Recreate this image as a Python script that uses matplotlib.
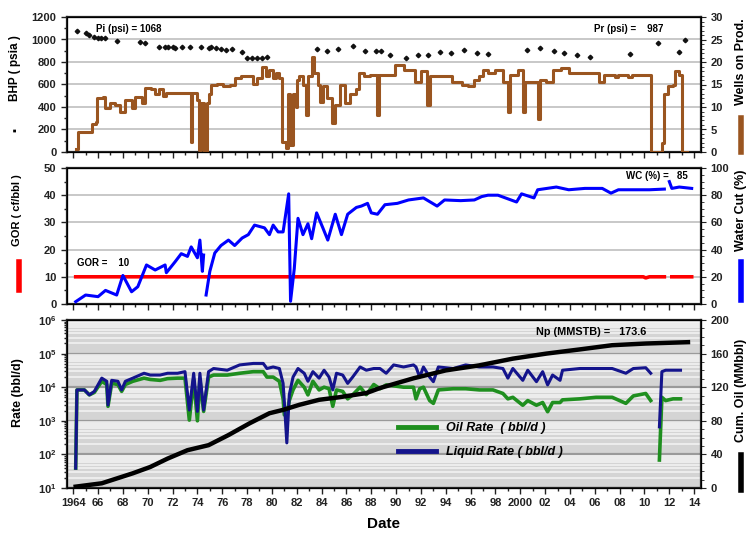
import numpy as np
import matplotlib
matplotlib.use("Agg")
import matplotlib.pyplot as plt
from matplotlib.ticker import MultipleLocator, FixedLocator, LogLocator, NullFormatter

plt.rcParams['font.family'] = ['Liberation Sans', 'DejaVu Sans']
plt.rcParams['font.weight'] = 'bold'

nan = np.nan

# --- Well performance data (decimal years) ---
# Static BHP survey points (psia)
bhp_year = [1964.3, 1965.0, 1965.3, 1965.7, 1966.0, 1966.2, 1966.6, 1967.5, 1969.4, 1969.8,
            1970.9, 1971.4, 1971.6, 1972.0, 1972.2, 1972.8, 1973.4, 1974.3, 1974.9, 1975.1,
            1975.5, 1975.9, 1976.3, 1976.8, 1977.6, 1978.0, 1978.4, 1978.8, 1979.2, 1979.6,
            1983.6, 1984.4, 1985.3, 1986.5, 1987.5, 1988.4, 1988.8, 1989.5, 1990.8, 1991.8,
            1992.6, 1993.5, 1994.4, 1995.5, 1996.5, 1997.4, 2000.5, 2001.6, 2002.7, 2003.5,
            2004.6, 2005.6, 2008.8, 2011.1, 2012.8, 2013.3]
bhp = [1075, 1055, 1040, 1025, 1010, 1010, 1010, 990, 975, 965,
       930, 930, 935, 930, 925, 930, 930, 930, 925, 935,
       925, 918, 910, 918, 890, 838, 838, 838, 838, 845,
       912, 900, 915, 942, 898, 898, 898, 862, 838, 862,
       862, 890, 880, 910, 880, 870, 906, 921, 898, 880,
       862, 848, 870, 966, 890, 995]

# Number of producing wells
wells_year = [1964.2, 1964.4, 1965.5, 1965.8, 1965.9, 1966.4, 1966.6, 1967.0, 1967.4, 1967.8,
              1968.2, 1968.7, 1969.0, 1969.5, 1969.8, 1970.3, 1970.6, 1970.9, 1971.2, 1971.5,
              1973.45, 1973.55, 1973.95, 1974.1, 1974.3, 1974.5, 1974.8, 1974.9, 1975.1, 1975.6,
              1976.1, 1976.6, 1977.0, 1977.5, 1978.5, 1978.8, 1979.2, 1979.5, 1979.8, 1980.1,
              1980.3, 1980.6, 1980.85, 1981.1, 1981.3, 1981.45, 1981.7, 1981.9, 1982.0, 1982.2,
              1982.5, 1982.75, 1982.9, 1983.2, 1983.4, 1983.7, 1983.9, 1984.1, 1984.4, 1984.8,
              1985.1, 1985.5, 1985.9, 1986.3, 1986.8, 1987.0, 1987.4, 1987.9, 1988.45, 1988.6,
              1989.9, 1990.6, 1991.5, 1992.0, 1992.5, 1992.7, 1993.1, 1994.5, 1995.3, 1995.8,
              1996.3, 1996.7, 1997.0, 1997.4, 1998.0, 1998.6, 1999.0, 1999.2, 1999.8, 2000.2,
              2000.4, 2001.45, 2001.6, 2002.1, 2002.6, 2003.3, 2003.9, 2005.0, 2006.3, 2006.7,
              2007.6, 2007.9, 2008.7, 2009.0, 2010.5, 2011.4, 2011.6, 2011.9, 2012.3, 2012.45,
              2012.8, 2013.0, 2013.4]
wells = [0.7, 4.5, 6.2, 6.7, 12.0, 12.3, 9.8, 10.9, 10.5, 9.0,
         11.5, 9.8, 12.3, 10.8, 14.2, 13.9, 12.8, 13.9, 12.4, 13.1,
         2.3, 13.1, 11.5, 0.5, 11.0, 0.0, 11.0, 13.0, 14.9, 15.2,
         14.6, 14.9, 16.4, 17.0, 15.2, 16.4, 19.0, 17.0, 18.2, 16.4,
         17.5, 16.4, 2.3, 0.8, 13.0, 1.6, 13.0, 10.0, 15.9, 16.8,
         15.0, 8.2, 16.8, 21.2, 17.5, 15.0, 11.2, 14.6, 12.0, 6.4,
         10.5, 15.0, 10.9, 12.8, 14.0, 17.5, 16.8, 17.2, 8.2, 17.2,
         19.3, 18.2, 15.6, 17.9, 10.5, 16.8, 16.8, 15.6, 15.0, 14.6,
         16.0, 16.8, 18.2, 17.5, 18.2, 15.6, 9.0, 17.2, 18.2, 9.0,
         15.6, 7.4, 16.1, 15.6, 18.2, 18.6, 17.5, 17.5, 15.6, 17.2,
         16.6, 17.2, 16.7, 17.2, 0.0, 2.0, 13.0, 14.6, 15.0, 17.9,
         17.2, 0.0, 0.0]

# Gas-oil ratio (cf/bbl)
gor_year = [1964.2, 1980.0, 1995.0, 2009.9, 2010.1, 2010.4, 2011.6, nan, 2012.2, 2013.8]
gor = [10, 10, 10, 10, 9.6, 10, 10, nan, 10, 10]

# Water cut (%)
wc_year = [1964.2, 1965.0, 1966.0, 1966.6, 1967.5, 1968.0, 1968.7, 1969.2, 1969.9, 1970.6,
           1971.4, 1971.5, 1972.2, 1972.7, 1973.2, 1973.5, 1974.0, 1974.2, 1974.4, 1974.5,
           nan, 1974.7, 1975.0, 1975.4, 1975.9, 1976.5, 1977.0, 1977.6, 1978.1, 1978.6,
           1979.4, 1979.8, 1980.1, 1980.5, 1980.9, 1981.35, 1981.5, 1981.8, 1982.1, 1982.5,
           1982.9, 1983.2, 1983.6, 1984.1, 1984.5, 1985.1, 1985.6, 1986.1, 1986.8, 1987.2,
           1987.7, 1988.0, 1988.5, 1989.1, 1990.1, 1991.0, 1992.2, 1993.3, 1993.9, 1995.2,
           1996.3, 1996.9, 1997.4, 1998.2, 1999.7, 2000.1, 2001.1, 2001.4, 2002.9, 2003.9,
           2005.2, 2006.6, 2007.3, 2007.9, 2009.1, 2010.4, 2011.6, nan, 2012.0, 2012.2,
           2012.8, 2013.8]
wc = [1.7, 6.6, 5.4, 10.0, 6.6, 21.0, 9.0, 12.7, 28.7, 25.0,
      28.7, 23.0, 31.0, 37.0, 35.0, 42.0, 34.0, 47.0, 24.0, 36.0,
      nan, 6.6, 24.0, 37.5, 43.0, 47.0, 43.0, 48.5, 51.0, 58.0,
      56.0, 51.0, 58.0, 53.0, 53.0, 81.0, 2.0, 26.0, 63.0, 51.0,
      59.0, 48.0, 67.0, 56.0, 47.0, 66.0, 51.0, 66.0, 71.0, 72.0,
      74.0, 67.0, 66.0, 73.0, 74.0, 76.5, 78.0, 72.0, 76.5, 76.0,
      76.5, 79.0, 80.0, 80.0, 75.0, 81.0, 78.0, 84.0, 86.0, 84.0,
      85.0, 85.0, 81.5, 84.0, 84.0, 84.0, 84.5, nan, 90.0, 85.0,
      86.0, 85.0]

# Oil and liquid rates (bbl/d)
rate_year = [1964.2, 1964.3, 1964.9, 1965.3, 1965.7, 1966.3, 1966.7, 1966.8, 1967.1, 1967.6,
             1967.9, 1968.2, 1968.8, 1969.7, 1970.2, 1971.0, 1971.6, 1972.4, 1973.0, 1973.35,
             1973.7, 1974.0, 1974.2, 1974.5, 1974.9, 1975.3, 1976.4, 1977.4, 1978.5, 1979.3,
             1979.6, 1980.1, 1980.6, 1980.9, 1981.0, 1981.2, 1981.4, 1981.7, 1982.1, 1982.6,
             1982.9, 1983.3, 1983.8, 1984.2, 1984.6, 1984.9, 1985.2, 1985.7, 1986.1, 1986.5,
             1987.1, 1987.6, 1988.2, 1988.7, 1989.2, 1989.8, 1990.6, 1991.4, 1991.6, 1991.9,
             1992.2, 1992.7, 1993.0, 1993.4, 1994.6, 1995.6, 1996.7, 1997.8, 1998.6, 1999.0,
             1999.4, 2000.2, 2000.6, 2001.3, 2001.8, 2002.2, 2002.6, 2003.2, 2003.4, 2004.8,
             2006.1, 2007.4, 2008.5, 2009.1, 2010.1, 2010.5, nan, 2011.2, 2011.4, 2011.7,
             2012.3, 2012.9]
liquid_rate = [39, 8300, 8300, 5900, 7500, 18600, 15000, 2960, 16000, 15000,
               8300, 15000, 18600, 26000, 23000, 23000, 26000, 26000, 29000, 2100,
               26000, 1900, 26000, 2100, 29000, 36000, 32000, 46000, 51000, 51000,
               36000, 40000, 36000, 13000, 3700, 220, 6000, 20000, 36000, 26000,
               15000, 29000, 18600, 32000, 20000, 8300, 26000, 23000, 13000, 20000,
               40000, 32000, 36000, 36000, 26000, 46000, 40000, 46000, 40000, 20000,
               40000, 20000, 14600, 40000, 36000, 46000, 40000, 40000, 36000, 18600,
               36000, 16000, 32000, 14600, 29000, 11700, 23000, 16000, 32000, 36000,
               36000, 36000, 26000, 36000, 38000, 26000, nan, 660, 29000, 32000,
               32000, 32000]
oil_rate = [39, 8300, 8300, 5900, 7000, 15000, 12000, 2700, 13000, 12000,
            7500, 12000, 15000, 18600, 17000, 16000, 18000, 18600, 18600, 1050,
            17000, 1000, 17000, 1900, 20000, 23000, 23000, 26000, 29000, 29000,
            20000, 20000, 15000, 4500, 1500, 1500, 4000, 8300, 16000, 10000,
            5900, 15000, 8300, 10000, 9000, 2700, 8300, 7500, 4500, 5900,
            10000, 6000, 12000, 9000, 11700, 11000, 10000, 10000, 4500, 9000,
            10000, 4000, 3300, 8300, 9000, 9000, 8300, 8300, 6500, 4500,
            5000, 2900, 4000, 2900, 3500, 1860, 3500, 3500, 4200, 4500,
            5000, 5000, 3300, 5500, 6500, 4000, nan, 68, 5000, 4000,
            4500, 4500]

# Cumulative oil (MMSTB)
cum_year = [1964.2, 1966.3, 1968.8, 1970.2, 1971.6, 1973.2, 1974.9, 1976.5, 1978.2, 1979.8,
            1980.9, 1982.2, 1983.8, 1985.4, 1987.6, 1988.7, 1991.4, 1994.0, 1996.7, 1999.4,
            2002.1, 2004.8, 2007.4, 2010.1, 2013.5]
cum_oil = [1.6, 5.6, 17.5, 25, 35, 45, 51, 63, 77, 89,
           93, 99, 105, 108, 113, 119, 130.6, 140, 146, 154,
           160, 165, 170, 172, 173.6]

pi_psi = 1068
pr_psi = 987
gor_now = 10
wc_now = 85
np_now = 173.6

year_ticks = list(range(1964, 2015, 2))
year_labels = ['1964' if y == 1964 else ('2000' if y == 2000 else '%02d' % (y % 100)) for y in year_ticks]

c_brown = '#9a5520'
c_blue = '#0000ff'
c_red = '#ff0000'
c_green = '#1f8f1f'
c_navy = '#14148c'
c_grid = '#c8c8c8'
TICK_SIZE = 8

fig = plt.figure(figsize=(7.52, 5.36), dpi=100)
L, R = 67 / 752, 701 / 752
ax1 = fig.add_axes([L, 1 - 152 / 536, R - L, 135 / 536])
ax2 = fig.add_axes([L, 1 - 304 / 536, R - L, 136 / 536])
ax3 = fig.add_axes([L, 1 - 488 / 536, R - L, 168 / 536])


def style_axes(ax, show_xlabels):
    ax.set_xlim(1963.5, 2014.55)
    ax.xaxis.set_major_locator(FixedLocator(year_ticks))
    ax.xaxis.set_minor_locator(MultipleLocator(1))
    if show_xlabels:
        ax.set_xticklabels(year_labels)
    else:
        ax.set_xticklabels([])
    for s in ax.spines.values():
        s.set_linewidth(1.6)
        s.set_color('#222222')
    ax.tick_params(which='both', direction='out', labelsize=TICK_SIZE, width=1, colors='#222222')
    ax.tick_params(which='major', length=4)
    ax.tick_params(which='minor', length=2.5)


def style_right(axr):
    axr.tick_params(which='both', direction='out', labelsize=TICK_SIZE, colors='#222222')
    axr.tick_params(which='minor', length=2.5)


# --- Top: BHP and wells on production ---
style_axes(ax1, False)
ax1.set_ylim(0, 1200)
ax1.yaxis.set_major_locator(MultipleLocator(200))
ax1.yaxis.set_minor_locator(MultipleLocator(100))
ax1.grid(axis='y', which='major', color=c_grid, linewidth=1.4)
ax1.set_axisbelow(True)
ax1.plot(bhp_year, bhp, linestyle='none', marker='D', markersize=2.3, color='#111111')
ax1b = ax1.twinx()
ax1b.plot(wells_year, wells, drawstyle='steps-post', color=c_brown, linewidth=2.2)
ax1b.set_ylim(0, 30)
ax1b.yaxis.set_major_locator(MultipleLocator(5))
ax1b.yaxis.set_minor_locator(MultipleLocator(1))
style_right(ax1b)
ax1.text(1965.8, 1092, 'Pi (psi) = %d' % pi_psi, fontsize=7, ha='left', va='center')
ax1.text(2005.9, 1095, 'Pr (psi) =    %d' % pr_psi, fontsize=7, ha='left', va='center')

# --- Middle: GOR and water cut ---
style_axes(ax2, False)
ax2.set_ylim(0, 50)
ax2.yaxis.set_major_locator(MultipleLocator(10))
ax2.yaxis.set_minor_locator(MultipleLocator(5))
ax2.grid(axis='y', which='major', color=c_grid, linewidth=1.4)
ax2.set_axisbelow(True)
ax2.plot(gor_year, gor, color=c_red, linewidth=2.6)
ax2b = ax2.twinx()
ax2b.plot(wc_year, wc, color=c_blue, linewidth=2.2)
ax2b.set_ylim(0, 100)
ax2b.yaxis.set_major_locator(MultipleLocator(20))
ax2b.yaxis.set_minor_locator(MultipleLocator(5))
style_right(ax2b)
ax2.text(1964.3, 15.0, 'GOR =    %d' % gor_now, fontsize=7, ha='left', va='center')
ax2.text(2008.5, 47, 'WC (%%) =   %d' % wc_now, fontsize=7, ha='left', va='center')

# --- Bottom: rates and cumulative oil ---
style_axes(ax3, True)
ax3.set_facecolor('#d4d4d4')
ax3.set_yscale('log')
ax3.set_ylim(10, 1e6)
ax3.yaxis.set_major_locator(LogLocator(base=10, numticks=10))
ax3.yaxis.set_minor_locator(LogLocator(base=10, subs=np.arange(2, 10), numticks=10))
ax3.yaxis.set_minor_formatter(NullFormatter())
ax3.grid(axis='y', which='minor', color='#f4f4f4', linewidth=1.1)
ax3.grid(axis='y', which='major', color='#9a9a9a', linewidth=1.6)
ax3.set_axisbelow(True)
ax3.plot(rate_year, oil_rate, color=c_green, linewidth=2.6, label='Oil Rate  ( bbl/d )')
ax3.plot(rate_year, liquid_rate, color=c_navy, linewidth=2.2, label='Liquid Rate ( bbl/d )')
ax3b = ax3.twinx()
ax3b.plot(cum_year, cum_oil, color='black', linewidth=3.2)
ax3b.set_ylim(0, 200)
ax3b.yaxis.set_major_locator(MultipleLocator(40))
ax3b.yaxis.set_minor_locator(MultipleLocator(10))
style_right(ax3b)
ax3b.text(2001.3, 186, 'Np (MMSTB) =   %.1f' % np_now, fontsize=7.8, ha='left', va='center')
ax3.set_xlabel('Date', fontsize=11, fontweight='bold', labelpad=6)
leg = ax3.legend(loc='upper left', bbox_to_anchor=(0.505, 0.46), frameon=False,
                 prop={'size': 9, 'style': 'italic', 'weight': 'bold'},
                 handlelength=3.0, labelspacing=1.0)
for h in leg.get_lines():
    h.set_linewidth(3.5)

# --- Axis titles at the figure edges ---
fig.text(15 / 752, 1 - 68 / 536, 'BHP ( psia )', rotation=90, ha='center', va='center', fontsize=8.5)
fig.text(15 / 752, 1 - 130 / 536, '\u25aa', rotation=90, ha='center', va='center', fontsize=8)
fig.text(17 / 752, 1 - 210 / 536, 'GOR ( cf/bbl )', rotation=90, ha='center', va='center', fontsize=8)
fig.text(18 / 752, 1 - 393 / 536, 'Rate (bbl/d)', rotation=90, ha='center', va='center', fontsize=9)
fig.text(741 / 752, 1 - 62 / 536, 'Wells on Prod.', rotation=90, ha='center', va='center', fontsize=9)
fig.text(741 / 752, 1 - 210 / 536, 'Water Cut (%)', rotation=90, ha='center', va='center', fontsize=9)
fig.text(741 / 752, 1 - 390 / 536, 'Cum. Oil (MMbbl)', rotation=90, ha='center', va='center', fontsize=9)

# colour keys beside the side titles
for x0, y0, y1, col in [(19, 262, 290, c_red), (741, 118, 152, c_brown),
                        (741, 262, 300, c_blue), (741, 455, 490, 'black')]:
    fig.lines.append(plt.Line2D([x0 / 752, x0 / 752], [1 - y1 / 536, 1 - y0 / 536],
                                color=col, linewidth=4, transform=fig.transFigure))

fig.savefig('out.png', dpi=100)
